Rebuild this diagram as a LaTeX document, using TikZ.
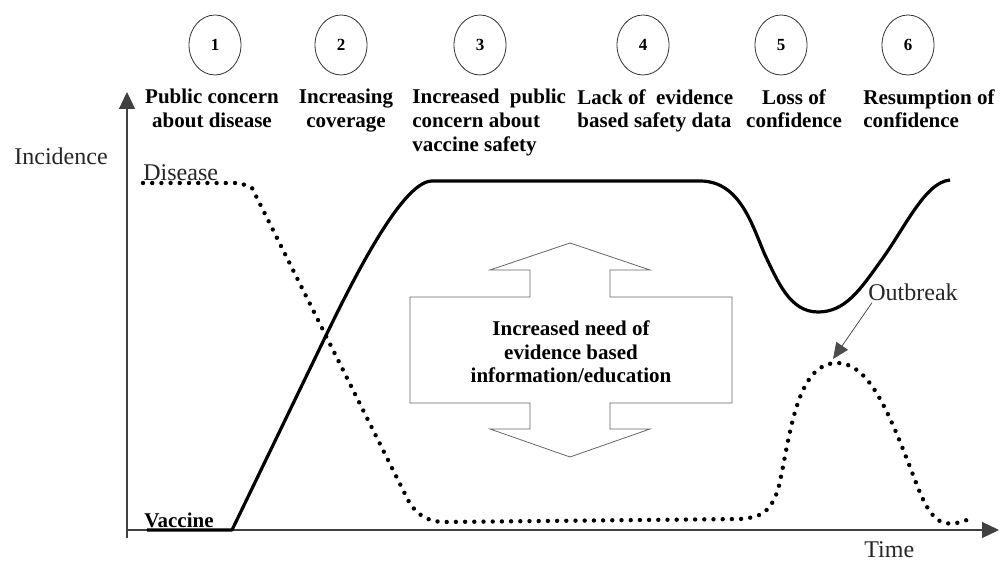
\documentclass[tikz,border=0pt]{standalone}
\usepackage{fontspec}
\setmainfont{Liberation Serif}
\usetikzlibrary{arrows.meta,shapes.geometric}

\begin{document}
\begin{tikzpicture}[x=0.5pt,y=-0.5pt,font=\fontsize{12}{14}\selectfont,
        curve/.style={line width=1.6pt,line join=round},
        dots/.style={line width=2.2pt,line cap=round,dash pattern=on 0pt off 4.6pt},
        axis/.style={black!75,semithick,-{Triangle[width=8pt,length=8.5pt]}},
        ptr/.style={black!70,thin,-{Triangle[width=7pt,length=8pt]}},
        label/.style={font=\fontsize{10.5}{11.8}\selectfont\bfseries,inner sep=0pt,anchor=north west,align=left},
        stage/.style={ellipse,draw=black!80,thin,minimum width=26pt,minimum height=30pt,inner sep=0pt,font=\fontsize{8.5}{10}\selectfont\bfseries},
        plain/.style={black!85,inner sep=1pt}]
    \useasboundingbox (0,0) rectangle (1000,561);

    % stages
    \foreach \n/\x in {1/215, 2/341, 3/480, 4/643, 5/781, 6/908}
        \node[stage] (s\n) at (\x,45) {\n};

    \node[label,anchor=north,align=center] (l1) at (212,89) {Public concern\\about disease};
    \node[label,anchor=north,align=center] (l2) at (346,89) {Increasing\\coverage};
    \node[label] (l3) at (412,89) {Increased\ \ public\\concern about\\vaccine safety};
    \node[label] (l4) at (577,89) {Lack of\ \ evidence\\based safety data};
    \node[label,anchor=north,align=center] (l5) at (794,89) {Loss of\\confidence};
    \node[label] (l6) at (863,89) {Resumption of\\confidence};

    % axes
    \coordinate (o) at (127,530);
    \coordinate (ybot) at (127,538);
    \coordinate (ytop) at (127,92);
    \coordinate (xend) at (999,530);
    \draw[axis] (ybot) -- (ytop);
    \draw[axis] (o) -- (xend);
    \node[plain,anchor=base west] (inc) at (12,165) {Incidence};
    \node[plain,anchor=base west] (time) at (862,557) {Time};

    % vaccine coverage
    \draw[curve] (147,530) -- (232,530) -- (318,352)
        .. controls (345,296) and (400,181) .. (432,181) -- (700,181)
        .. controls (740,181) and (752,225) .. (765,255)
        .. controls (778,282) and (790,312) .. (818,312)
        .. controls (845,312) and (860,290) .. (880,262)
        .. controls (905,228) and (925,182) .. (950,180);
    \node[label,anchor=base west,inner sep=1pt] (vac) at (142,527) {Vaccine};

    % disease incidence
    \draw[dots] (143,183) -- (240,183) -- (252,188) -- (405,494)
        .. controls (413,512) and (425,522) .. (445,522) -- (740,519)
        .. controls (765,517) and (770,510) .. (778,490)
        .. controls (790,440) and (795,363) .. (837,363)
        .. controls (870,363) and (890,415) .. (915,480)
        .. controls (930,520) and (940,530) .. (967,520);
    \node[plain,anchor=base west] (dis) at (141,181) {Disease};

    \node[plain,anchor=base west] (ob) at (866,300) {Outbreak};
    \coordinate (peak) at (833,359);
    \draw[ptr] ([xshift=3pt]ob.south west) -- (peak);

    % double arrow
    \draw[black!60,thin] (570,243) -- (650,270) -- (610,270) -- (610,297) -- (732,297)
        -- (732,403) -- (610,403) -- (610,429) -- (650,429) -- (570,457) -- (490,429)
        -- (530,429) -- (530,403) -- (410,403) -- (410,297) -- (530,297) -- (530,270)
        -- (490,270) -- cycle;
    \node[label,anchor=center,align=center] (need) at (571,352) {Increased need of\\evidence based\\information/education};
\end{tikzpicture}
\end{document}
